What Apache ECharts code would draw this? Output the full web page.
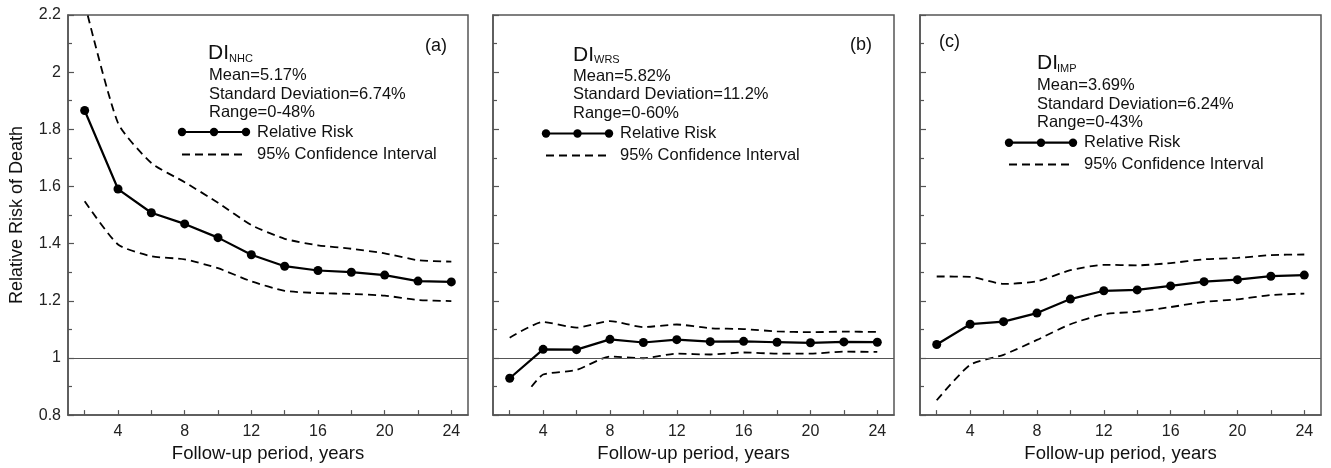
<!DOCTYPE html>
<html>
<head>
<meta charset="utf-8">
<script src="https://cdn.jsdelivr.net/npm/echarts@6/dist/echarts.min.js"></script>
<style>
  html, body { margin: 0; padding: 0; background: #fff; }
  #chart { width: 1331px; height: 468px; }
</style>
</head>
<body>
<div id="chart"></div>
<script>
// follow-up years
var years = [2, 4, 6, 8, 10, 12, 14, 16, 18, 20, 22, 24];

// (a) DI NHC
var rrA = [1.866, 1.591, 1.508, 1.469, 1.421, 1.361, 1.321, 1.306, 1.300, 1.290, 1.269, 1.266];
var hiA = [2.242, 1.822, 1.682, 1.615, 1.543, 1.465, 1.417, 1.394, 1.382, 1.366, 1.342, 1.337];
var loA = [1.548, 1.397, 1.356, 1.345, 1.314, 1.268, 1.235, 1.227, 1.224, 1.218, 1.203, 1.199];

// (b) DI WRS
var rrB = [0.929, 1.030, 1.029, 1.065, 1.054, 1.064, 1.057, 1.058, 1.055, 1.053, 1.056, 1.055];
var hiB = [1.071, 1.126, 1.106, 1.129, 1.108, 1.117, 1.104, 1.101, 1.093, 1.090, 1.092, 1.091];
var loB = [null, 0.942, 0.958, 1.005, 0.999, 1.015, 1.012, 1.019, 1.015, 1.015, 1.022, 1.021];
var loBLead = [3.3, 0.899];   // lower band starts part-way in the original

// (c) DI IMP
var rrC = [1.047, 1.118, 1.127, 1.157, 1.206, 1.235, 1.238, 1.252, 1.267, 1.274, 1.286, 1.290];
var hiC = [1.285, 1.284, 1.259, 1.268, 1.307, 1.326, 1.324, 1.332, 1.345, 1.350, 1.360, 1.362];
var loC = [0.852, 0.976, 1.011, 1.063, 1.118, 1.153, 1.162, 1.178, 1.196, 1.205, 1.220, 1.225];

var xTicks = [2, 4, 6, 8, 10, 12, 14, 16, 18, 20, 22, 24];
var xLabels = [4, 8, 12, 16, 20, 24];

var FONT = '"Liberation Sans", Arial, sans-serif';
var GREY = '#555';

function pairs(arr) {
  var out = [];
  years.forEach(function (x, i) {
    if (arr[i] != null) out.push([x, arr[i]]);
  });
  return out;
}

var grids = [
  { left: 68, top: 15, width: 400, height: 401 },
  { left: 493, top: 15, width: 401, height: 401 },
  { left: 920, top: 15, width: 401, height: 401 }
];

var xAxes = [], yAxes = [];
grids.forEach(function (g, i) {
  g.show = true;
  g.borderColor = GREY;
  g.borderWidth = 1.5;
  g.containLabel = false;
  xAxes.push({
    type: 'value', gridIndex: i, min: 1, max: 25,
    name: 'Follow-up period, years', nameLocation: 'middle', nameGap: 26,
    nameTextStyle: { fontFamily: FONT, fontSize: 18.5, color: '#111' },
    axisLine: { show: true, lineStyle: { color: GREY, width: 1.5 } },
    axisTick: { show: true, inside: true, length: 5, customValues: xTicks, lineStyle: { color: GREY, width: 1.2 } },
    axisLabel: { show: true, customValues: xLabels, margin: 8, fontFamily: FONT, fontSize: 16, color: '#222' },
    splitLine: { show: false }
  });
  yAxes.push({
    type: 'value', gridIndex: i, min: 0.8, max: 2.2, interval: 0.2,
    name: i === 0 ? 'Relative Risk of Death' : '', nameLocation: 'middle', nameGap: 42,
    nameTextStyle: { fontFamily: FONT, fontSize: 18, color: '#111' },
    axisLine: { show: true, lineStyle: { color: GREY, width: 1.5 } },
    axisTick: { show: true, inside: true, length: 6, lineStyle: { color: GREY, width: 1.2 } },
    minorTick: { show: true, splitNumber: 2, length: 4, lineStyle: { color: GREY, width: 1.2 } },
    axisLabel: { show: i === 0, margin: 7, fontFamily: FONT, fontSize: 16, color: '#222' },
    splitLine: { show: false }
  });
});

function rrSeries(i, arr) {
  return {
    type: 'line', xAxisIndex: i, yAxisIndex: i, data: pairs(arr),
    symbol: 'circle', symbolSize: 9, color: '#000',
    lineStyle: { color: '#000', width: 2.2 },
    z: 5,
    markLine: {
      silent: true, symbol: 'none', label: { show: false },
      lineStyle: { color: GREY, width: 1, type: 'solid' },
      data: [{ yAxis: 1 }]
    }
  };
}
function ciSeries(i, data) {
  return {
    type: 'line', xAxisIndex: i, yAxisIndex: i, data: data,
    symbol: 'none', smooth: 0.2, color: '#000',
    lineStyle: { color: '#000', width: 1.8, type: [8, 5] }
  };
}

var series = [
  rrSeries(0, rrA), ciSeries(0, pairs(hiA)), ciSeries(0, pairs(loA)),
  rrSeries(1, rrB), ciSeries(1, pairs(hiB)), ciSeries(1, [loBLead].concat(pairs(loB))),
  rrSeries(2, rrC), ciSeries(2, pairs(hiC)), ciSeries(2, pairs(loC))
];

function txt(x, y, s, size) {
  return {
    type: 'text', x: x, y: y, silent: true,
    style: {
      text: s, font: 'normal ' + size + 'px ' + FONT, fill: '#111',
      textAlign: 'left', align: 'left', textVerticalAlign: 'middle', verticalAlign: 'middle'
    }
  };
}
function seg(x1, x2, y, dashed) {
  return {
    type: 'line', silent: true,
    shape: { x1: x1, y1: y, x2: x2, y2: y },
    style: { stroke: '#000', lineWidth: dashed ? 1.8 : 2.2, lineDash: dashed ? [8, 5] : null }
  };
}
function dot(x, y) {
  return { type: 'circle', silent: true, shape: { cx: x, cy: y, r: 4.2 }, style: { fill: '#000' } };
}

// one annotation block per panel: tag, DI heading with subscript, stats, hand-drawn legend
var notes = [
  { tag: '(a)', tx: 425, ty: 46, dx: 208, dy: 53, sub: 'NHC', sx: 229, sy: 59, mx: 209, my: 75.5,
    stats: ['Mean=5.17%', 'Standard Deviation=6.74%', 'Range=0-48%'],
    lx1: 182, lx2: 246, ly: 132, dx2: 242, dly: 154.5, ltx: 257 },
  { tag: '(b)', tx: 850, ty: 45, dx: 573, dy: 55, sub: 'WRS', sx: 594, sy: 60, mx: 573, my: 76,
    stats: ['Mean=5.82%', 'Standard Deviation=11.2%', 'Range=0-60%'],
    lx1: 546, lx2: 609, ly: 133.5, dx2: 607, dly: 155.5, ltx: 620 },
  { tag: '(c)', tx: 939, ty: 42.5, dx: 1037, dy: 63, sub: 'IMP', sx: 1057, sy: 69, mx: 1037, my: 85.5,
    stats: ['Mean=3.69%', 'Standard Deviation=6.24%', 'Range=0-43%'],
    lx1: 1009, lx2: 1073, ly: 142.7, dx2: 1070, dly: 164.5, ltx: 1084 }
];

var graphic = [];
notes.forEach(function (n) {
  graphic.push(txt(n.tx, n.ty, n.tag, 18));
  graphic.push(txt(n.dx, n.dy, 'DI', 21));
  graphic.push(txt(n.sx, n.sy, n.sub, 11));
  n.stats.forEach(function (s, k) {
    graphic.push(txt(n.mx, n.my + k * 18.7, s, 16.5));
  });
  graphic.push(seg(n.lx1, n.lx2, n.ly, false));
  graphic.push(dot(n.lx1, n.ly), dot((n.lx1 + n.lx2) / 2, n.ly), dot(n.lx2, n.ly));
  graphic.push(txt(n.ltx, n.ly, 'Relative Risk', 16.5));
  graphic.push(seg(n.lx1, n.dx2, n.dly, true));
  graphic.push(txt(n.ltx, n.dly, '95% Confidence Interval', 16.5));
});

var myChart = echarts.init(document.getElementById('chart'), null, { renderer: 'canvas' });
myChart.setOption({
  animation: false,
  backgroundColor: '#fff',
  textStyle: { fontFamily: FONT },
  grid: grids,
  xAxis: xAxes,
  yAxis: yAxes,
  series: series,
  graphic: graphic
});
</script>
</body>
</html>
